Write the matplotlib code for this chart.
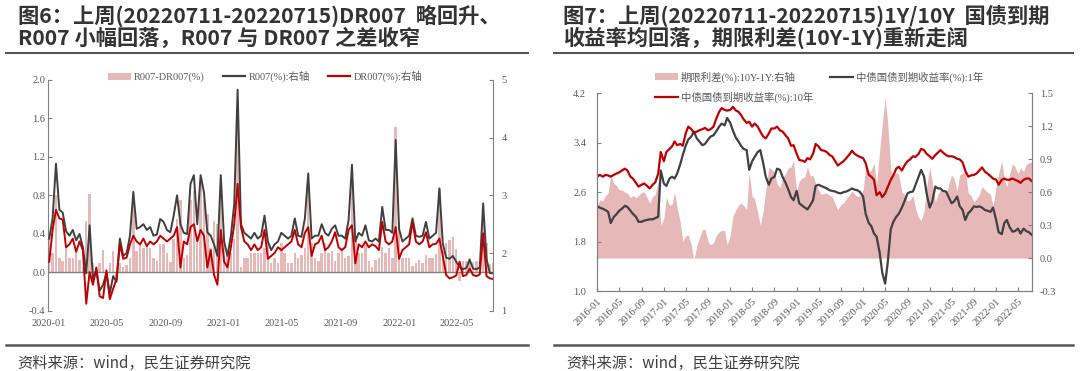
import numpy as np
import pandas as pd
import matplotlib
matplotlib.use('Agg')
import matplotlib.pyplot as plt
import matplotlib.dates as mdates
from matplotlib.lines import Line2D
from matplotlib.patches import Patch

plt.rcParams['font.family'] = ['Liberation Serif', 'Noto Sans CJK SC']

# ---- fig 6: weekly R007 / DR007 (%), Fridays from 2020-01-03 ----
r007 = [
    2.25, 2.60, 3.55, 2.75, 2.70,  2.38, 2.30, 2.40, 2.22,  2.33, 2.10, 1.65, 2.48,
    1.55, 1.70, 1.35, 1.45,  1.65, 1.30, 1.60, 1.50, 2.25,  1.95, 2.00, 2.30, 3.06,
    2.42, 2.45, 2.50, 2.40, 2.45,  2.30, 2.32, 2.59, 2.54,  2.40, 2.36, 2.65, 3.00,
    2.50, 2.35, 2.33, 3.20, 3.35,  2.50, 3.35, 3.05, 2.36,  2.30, 2.15, 1.95, 3.35,
    # 2021
    2.20, 1.95, 2.30, 2.85, 4.83,  2.50, 2.35, 2.30, 2.25,  2.35, 2.25, 2.30, 2.65,
    2.20, 2.05, 2.15, 2.20, 2.35,  2.30, 2.25, 2.30, 2.60,  2.30, 2.28, 2.60, 3.38,
    2.25, 2.30, 2.30, 2.50, 2.35,  2.30, 2.42, 2.48, 2.30,  2.30, 2.25, 2.57, 3.53,
    2.20, 2.35, 2.30, 2.48, 2.22,  2.20, 2.25, 2.20, 2.80,  2.40, 2.40, 2.35, 3.96, 2.42,
    # 2022
    2.20, 2.25, 2.30, 2.60,  2.30, 2.28, 2.30, 2.54,  2.25, 2.30, 2.35, 3.12,
    2.17, 1.92, 1.90, 1.95, 1.85,  1.76, 1.72, 1.74, 1.88,  1.73, 1.72, 1.75, 2.86,
    1.90, 1.65, 1.65,
]
dr007 = [
    1.85, 2.40, 2.75, 2.60, 2.58,  2.10, 2.15, 2.25, 2.02,  2.20, 2.05, 1.12, 1.67,
    1.45, 1.75, 1.25, 1.22,  1.70, 1.20, 1.38, 1.55, 2.15,  1.90, 1.92, 2.15, 2.30,
    2.20, 2.15, 2.25, 2.12, 2.20,  2.15, 2.20, 2.30, 2.25,  2.20, 2.25, 2.30, 2.45,
    1.75, 2.20, 2.15, 2.45, 2.50,  2.20, 2.40, 2.30, 1.75,  2.05, 1.62, 1.45, 2.40,
    # 2021
    1.85, 1.75, 2.10, 2.50, 3.20,  2.45, 2.20, 2.15, 2.05,  2.15, 2.05, 2.10, 2.40,
    1.90, 1.95, 2.00, 2.10, 2.05,  2.10, 2.15, 2.20, 2.40,  2.15, 2.10, 2.35, 2.45,
    1.95, 2.15, 2.18, 2.30, 2.05,  2.10, 2.20, 2.36, 2.10,  2.05, 2.10, 2.40, 2.48,
    1.82, 2.15, 2.10, 2.20, 2.10,  2.15, 2.12, 2.05, 2.54,  2.20, 2.15, 2.20, 2.45, 1.90,
    # 2022
    2.05, 2.10, 2.15, 2.54,  2.20, 2.15, 2.20, 2.36,  2.10, 2.15, 2.16, 2.25,
    1.95, 1.62, 1.56, 1.58, 1.61,  1.85, 1.60, 1.62, 1.73,  1.62, 1.60, 1.63, 2.34,
    1.60, 1.56, 1.55,
]

# ---- fig 7: semi-monthly treasury yields (%), 1st and 15th from 2016-01 ----
yield_10y = [
    2.85, 2.88, 2.85, 2.88, 2.87, 2.85, 2.88, 2.90, 2.92, 2.95, 2.98, 2.95,
    2.85, 2.82, 2.75, 2.69, 2.72, 2.74, 2.70, 2.66, 2.72, 2.76, 2.90, 3.25,
    3.10, 3.25, 3.30, 3.34, 3.42, 3.36, 3.38, 3.35, 3.55, 3.66, 3.62, 3.56,
    3.58, 3.60, 3.62, 3.64, 3.60, 3.62, 3.66, 3.78, 3.90, 3.96, 3.93, 3.92,
    3.93, 3.98, 3.92, 3.90, 3.85, 3.78, 3.72, 3.74, 3.66, 3.71, 3.66, 3.58,
    3.50, 3.47, 3.55, 3.63, 3.63, 3.66, 3.60, 3.58, 3.52, 3.47, 3.35, 3.36,
    3.22, 3.12, 3.11, 3.09, 3.15, 3.13, 3.22, 3.38, 3.34, 3.28, 3.27, 3.25,
    3.20, 3.18, 3.10, 3.03, 3.07, 3.10, 3.15, 3.20, 3.27, 3.22, 3.19, 3.17,
    3.15, 3.07, 2.88, 2.85, 2.80, 2.55, 2.60, 2.52, 2.58, 2.68, 2.80, 2.87,
    2.98, 3.01, 2.95, 3.03, 3.10, 3.13, 3.18, 3.17, 3.22, 3.30, 3.28, 3.22,
    3.18, 3.14, 3.20, 3.24, 3.28, 3.24, 3.20, 3.18, 3.18, 3.17, 3.14, 3.13,
    3.08, 2.95, 2.85, 2.87, 2.88, 2.90, 2.95, 3.00, 2.93, 2.90, 2.86, 2.82,
    2.80, 2.72, 2.80, 2.82, 2.80, 2.80, 2.82, 2.80, 2.78, 2.75, 2.80, 2.82,
    2.82, 2.78,
]
yield_1y = [
    2.37, 2.35, 2.33, 2.31, 2.28, 2.10, 2.20, 2.24, 2.30, 2.33, 2.38, 2.36,
    2.30, 2.25, 2.20, 2.12, 2.12, 2.14, 2.15, 2.16, 2.16, 2.18, 2.20, 2.95,
    2.74, 2.70, 2.82, 2.85, 2.82, 2.90, 3.05, 3.20, 3.35, 3.45, 3.50, 3.58,
    3.47, 3.42, 3.36, 3.38, 3.45, 3.50, 3.52, 3.58, 3.66, 3.71, 3.68, 3.80,
    3.72, 3.60, 3.48, 3.42, 3.35, 3.30, 3.28, 2.96, 3.10, 3.17, 3.25, 3.28,
    3.07, 2.85, 2.72, 2.82, 2.85, 2.98, 2.96, 2.85, 2.75, 2.65, 2.52, 2.47,
    2.62, 2.42, 2.38, 2.35, 2.32, 2.38, 2.47, 2.70, 2.72, 2.70, 2.68, 2.66,
    2.63, 2.62, 2.61, 2.59, 2.58, 2.60, 2.61, 2.63, 2.66, 2.64, 2.63, 2.60,
    2.53, 2.25, 2.10, 2.05, 1.93, 1.88, 1.62, 1.30, 1.12, 1.45, 2.00, 2.12,
    2.20, 2.25, 2.35, 2.45, 2.58, 2.60, 2.61, 2.72, 2.85, 2.96, 2.85, 2.58,
    2.35, 2.45, 2.69, 2.66, 2.66, 2.62, 2.61, 2.52, 2.42, 2.45, 2.53, 2.37,
    2.31, 2.15, 2.26, 2.30, 2.37, 2.36, 2.37, 2.35, 2.31, 2.30, 2.28, 2.35,
    2.15, 1.95, 1.92, 2.10, 2.15, 2.04, 1.96, 1.97, 2.01, 1.93, 2.01, 1.97,
    1.95, 1.91,
]

title6 = ['图6：上周(20220711-20220715)DR007  略回升、',
          'R007 小幅回落，R007 与 DR007 之差收窄']
title7 = ['图7：上周(20220711-20220715)1Y/10Y  国债到期',
          '收益率均回落，期限利差(10Y-1Y)重新走阔']
source = '资料来源：wind，民生证券研究院'

RED = '#c00000'
DARK = '#404040'
PINK = '#e6b8b7'
GREY_TXT = '#595959'
SPINE = '#808080'
CJK = ['Noto Sans CJK SC']


def style_ticks(ax):
    ax.tick_params(axis='y', direction='in', length=3, width=0.8,
                   colors=SPINE, labelcolor=GREY_TXT, labelsize=7.5)


def main():
    fig = plt.figure(figsize=(10.8, 3.71), dpi=100)

    # ---------------- left panel ----------------
    d6 = pd.date_range('2020-01-03', periods=len(r007), freq='W-FRI')
    r = np.array(r007)
    dr = np.array(dr007)
    spread6 = r - dr

    ax = fig.add_axes([0.0447, 0.1625, 0.412, 0.622])
    ax.bar(d6, spread6, width=5, color=PINK, linewidth=0)
    ax.axhline(0, color=SPINE, lw=1)
    ax.set_ylim(-0.4, 2.0)
    ax.set_yticks(np.arange(-0.4, 2.01, 0.4))
    ax.yaxis.set_major_formatter(plt.FormatStrFormatter('%.1f'))
    ax.set_xlim(pd.Timestamp('2020-01-01'), pd.Timestamp('2022-07-15'))
    ax.xaxis.set_major_locator(mdates.MonthLocator(bymonth=[1, 5, 9]))
    ax.xaxis.set_major_formatter(mdates.DateFormatter('%Y-%m'))
    ax.tick_params(axis='x', length=0, pad=6, labelcolor=GREY_TXT, labelsize=7.5)
    style_ticks(ax)
    ax.tick_params(axis='y', pad=2)
    for s in ['top', 'bottom', 'right']:
        ax.spines[s].set_visible(False)
    ax.spines['left'].set_color(SPINE)

    ax2 = ax.twinx()
    ax2.plot(d6, r, color=DARK, lw=1.4)
    ax2.plot(d6, dr, color=RED, lw=1.4)
    ax2.set_ylim(1, 5)
    ax2.set_yticks([1, 2, 3, 4, 5])
    style_ticks(ax2)
    ax2.tick_params(axis='y', pad=6)
    for s in ['top', 'bottom', 'left']:
        ax2.spines[s].set_visible(False)
    ax2.spines['right'].set_color(SPINE)

    h6 = [Patch(facecolor=PINK, edgecolor='none'),
          Line2D([], [], color=DARK, lw=1.6),
          Line2D([], [], color=RED, lw=1.6)]
    ax2.legend(h6, ['R007-DR007(%)', 'R007(%):右轴', 'DR007(%):右轴'],
               ncol=3, loc='center left', bbox_to_anchor=(0.1, 0.7935),
               bbox_transform=fig.transFigure, frameon=False, fontsize=7.5,
               labelcolor=GREY_TXT, borderpad=0, borderaxespad=0,
               handlelength=2.2, handletextpad=0.3, columnspacing=1.7)

    # ---------------- right panel ----------------
    d7 = pd.date_range('2016-01-01', periods=len(yield_10y), freq='SMS')
    y10 = np.array(yield_10y)
    y1 = np.array(yield_1y)
    term = y10 - y1

    bx = fig.add_axes([0.553, 0.2156, 0.4022, 0.533])
    bx2 = bx.twinx()
    bx2.fill_between(d7, 0, term, color=PINK, linewidth=0)
    bx2.set_ylim(-0.3, 1.5)
    bx2.set_yticks(np.arange(-0.3, 1.51, 0.3))
    bx2.yaxis.set_major_formatter(plt.FormatStrFormatter('%.1f'))

    bx.plot(d7, y1, color=DARK, lw=1.6)
    bx.plot(d7, y10, color=RED, lw=1.6)
    bx.set_zorder(bx2.get_zorder() + 1)
    bx.patch.set_visible(False)
    bx.set_ylim(1.0, 4.2)
    bx.set_yticks(np.arange(1.0, 4.21, 0.8))
    bx.yaxis.set_major_formatter(plt.FormatStrFormatter('%.1f'))
    bx.set_xlim(pd.Timestamp('2016-01-01'), pd.Timestamp('2022-07-15'))
    bx.xaxis.set_major_locator(mdates.MonthLocator(bymonth=[1, 5, 9]))
    bx.xaxis.set_major_formatter(mdates.DateFormatter('%Y-%m'))
    bx.tick_params(axis='x', direction='in', length=3, width=0.8, colors=SPINE,
                   labelcolor=GREY_TXT, labelsize=7.5, pad=4)
    for lab in bx.get_xticklabels():
        lab.set_rotation(45)
        lab.set_ha('right')
        lab.set_rotation_mode('anchor')
    style_ticks(bx)
    bx.tick_params(axis='y', pad=8)
    style_ticks(bx2)
    bx2.tick_params(axis='y', pad=6)
    for a in (bx, bx2):
        a.spines['top'].set_visible(False)
        for s in ['left', 'right', 'bottom']:
            a.spines[s].set_color(SPINE)

    h7 = [Patch(facecolor=PINK, edgecolor='none'),
          Line2D([], [], color=RED, lw=1.6),
          Line2D([], [], color=DARK, lw=1.6)]
    bx.legend(h7, ['期限利差(%):10Y-1Y:右轴', '中债国债到期收益率(%):10年',
                   '中债国债到期收益率(%):1年'],
              ncol=2, loc='center left', bbox_to_anchor=(0.6065, 0.7655),
              bbox_transform=fig.transFigure, frameon=False, fontsize=7.5,
              labelcolor=GREY_TXT, borderpad=0, borderaxespad=0,
              handlelength=2.2, handletextpad=0.3, columnspacing=1.6,
              labelspacing=0.85)

    # ---------------- titles, rules, source ----------------
    for x0, lines in [(0.0167, title6), (0.521, title7)]:
        fig.text(x0, 0.957, lines[0], family=CJK, weight='bold', fontsize=15.3,
                 color='#333333', va='center')
        fig.text(x0, 0.8976, lines[1], family=CJK, weight='bold', fontsize=15.3,
                 color='#333333', va='center')
    for x0, x1 in [(0.0056, 0.489), (0.513, 0.9935)]:
        fig.add_artist(Line2D([x0, x1], [0.8563, 0.8563], color='#555555', lw=1.5))
        fig.add_artist(Line2D([x0, x1], [0.070, 0.070], color='#555555', lw=1.8))
    fig.text(0.0157, 0.0216, source, family=CJK, fontsize=11, color='#404040',
             va='center')
    fig.text(0.524, 0.0216, source, family=CJK, fontsize=11, color='#404040',
             va='center')

    fig.savefig('out.png', dpi=100)
    plt.close(fig)


if __name__ == '__main__':
    main()
